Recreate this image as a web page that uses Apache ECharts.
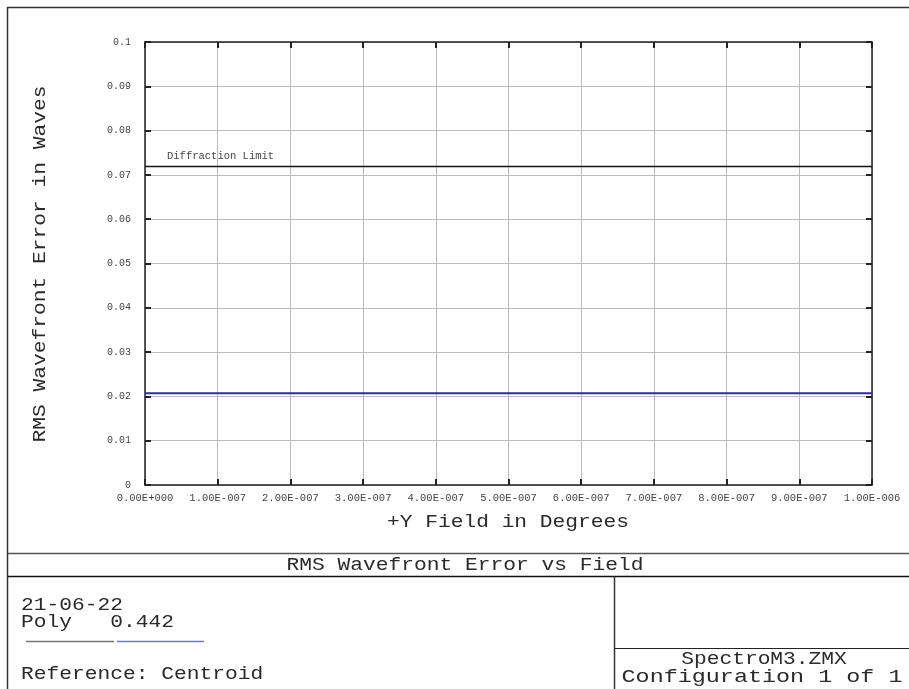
<!DOCTYPE html>
<html>
<head>
<meta charset="utf-8">
<script src="https://cdn.jsdelivr.net/npm/echarts@6/dist/echarts.min.js"></script>
<style>
html,body{margin:0;padding:0;background:#fff;}
#chart{width:909px;height:689px;}
</style>
</head>
<body>
<div id="chart"></div>
<script>
// ---- data ----
const fieldDeg = [0, 6.667e-8, 1.333e-7, 2e-7, 2.667e-7, 3.333e-7, 4e-7, 4.667e-7, 5.333e-7, 6e-7, 6.667e-7, 7.333e-7, 8e-7, 8.667e-7, 9.333e-7, 1e-6];
const rmsPoly = [0.0207, 0.0207, 0.0207, 0.0207, 0.0207, 0.0207, 0.0207, 0.0207, 0.0207, 0.0207, 0.0207, 0.0207, 0.0207, 0.0207, 0.0207, 0.0207];
const diffractionLimit = 0.072;
const xRange = [0, 1e-6];
const yRange = [0, 0.1];
const xStep = 1e-7;
const yStep = 0.01;
const titleText = 'RMS Wavefront Error vs Field';
const xTitle = '+Y Field in Degrees';
const yTitle = 'RMS Wavefront Error in Waves';
const dateText = '21-06-22';
const polyText = 'Poly   0.442';
const refText = 'Reference: Centroid';
const fileText = 'SpectroM3.ZMX';
const confText = 'Configuration 1 of 1';

function sci(v) {
  if (Math.abs(v) < 1e-20) return '0.00E+000';
  let e = Math.floor(Math.log10(Math.abs(v)) + 1e-9);
  let m = v / Math.pow(10, e);
  if (Math.abs(m) >= 9.995) { m /= 10; e += 1; }
  return m.toFixed(2) + 'E' + (e < 0 ? '-' : '+') + String(Math.abs(e)).padStart(3, '0');
}

const FONT = '"Liberation Mono", "Courier New", monospace';
const SX = 1.18;
function txt(x, y, text, align, extra, sx) {
  return Object.assign({
    type: 'text', x: x, y: y, scaleX: sx || SX, silent: true,
    style: { text: text, x: 0, y: 0, font: '18px ' + FONT, fill: '#2a2a2a', textAlign: align || 'left', textVerticalAlign: 'middle' }
  }, extra || {});
}
function line(x1, y1, x2, y2, color, w) {
  return { type: 'line', silent: true, shape: { x1: x1, y1: y1, x2: x2, y2: y2 }, style: { stroke: color, lineWidth: w } };
}

const chart = echarts.init(document.getElementById('chart'), null, { renderer: 'canvas' });
const axisLineStyle = { color: '#222', width: 1.5 };
const tickStyle = { show: true, inside: true, length: 6, lineStyle: { color: '#222', width: 2 } };

chart.setOption({
  animation: false,
  backgroundColor: '#fff',
  grid: { left: 145, right: 37, top: 42, bottom: 204, containLabel: false },
  xAxis: [{
    type: 'value', min: xRange[0], max: xRange[1], interval: xStep,
    axisLine: { show: true, onZero: false, lineStyle: axisLineStyle },
    axisTick: tickStyle,
    splitLine: { show: true, lineStyle: { color: '#bbb', width: 1 } },
    axisLabel: { formatter: sci, fontFamily: FONT, fontSize: 10.5, color: '#444', margin: 8 }
  }, {
    type: 'value', position: 'top', min: xRange[0], max: xRange[1], interval: xStep,
    axisLine: { show: true, onZero: false, lineStyle: axisLineStyle },
    axisTick: tickStyle, splitLine: { show: false }, axisLabel: { show: false }
  }],
  yAxis: [{
    type: 'value', min: yRange[0], max: yRange[1], interval: yStep,
    axisLine: { show: true, onZero: false, lineStyle: axisLineStyle },
    axisTick: tickStyle,
    splitLine: { show: true, lineStyle: { color: '#bbb', width: 1 } },
    axisLabel: { formatter: v => String(parseFloat(v.toFixed(3))), fontFamily: FONT, fontSize: 10, color: '#444', margin: 14 }
  }, {
    type: 'value', position: 'right', min: yRange[0], max: yRange[1], interval: yStep,
    axisLine: { show: true, onZero: false, lineStyle: axisLineStyle },
    axisTick: tickStyle, splitLine: { show: false }, axisLabel: { show: false }
  }],
  series: [{
    type: 'line', name: 'Poly',
    data: fieldDeg.map((x, i) => [x, rmsPoly[i]]),
    showSymbol: false, symbol: 'none',
    lineStyle: { color: '#2e2ea6', width: 2 },
    markLine: {
      silent: true, symbol: 'none', precision: 5,
      lineStyle: { color: '#111', width: 1.3, type: 'solid' },
      label: { show: true, position: 'insideStartTop', formatter: 'Diffraction Limit', fontFamily: FONT, fontSize: 10.5, color: '#444', distance: [22, 4] },
      data: [{ yAxis: diffractionLimit }]
    }
  }],
  graphic: [
    { type: 'rect', silent: true, shape: { x: 7.5, y: 7.5, width: 930, height: 700 }, style: { fill: 'none', stroke: '#333', lineWidth: 1.5 } },
    line(8, 553.5, 909, 553.5, '#555', 1.5),
    line(8, 576.5, 909, 576.5, '#111', 1.5),
    line(614.5, 576.5, 614.5, 689, '#333', 1.5),
    line(614.5, 648.5, 909, 648.5, '#222', 1.2),
    line(26, 641.5, 114, 641.5, '#777', 1.5),
    line(117, 641.5, 204, 641.5, '#6f6ff5', 1.5),
    txt(508, 522, xTitle, 'center'),
    txt(40, 264, yTitle, 'center', { rotation: Math.PI / 2 }),
    txt(465, 565, titleText, 'center'),
    txt(21, 605, dateText, 'left'),
    txt(21, 622, polyText, 'left'),
    txt(21, 674, refText, 'left'),
    txt(764, 659, fileText, 'center'),
    txt(762, 677, confText, 'center', null, 1.3)
  ]
});
</script>
</body>
</html>
